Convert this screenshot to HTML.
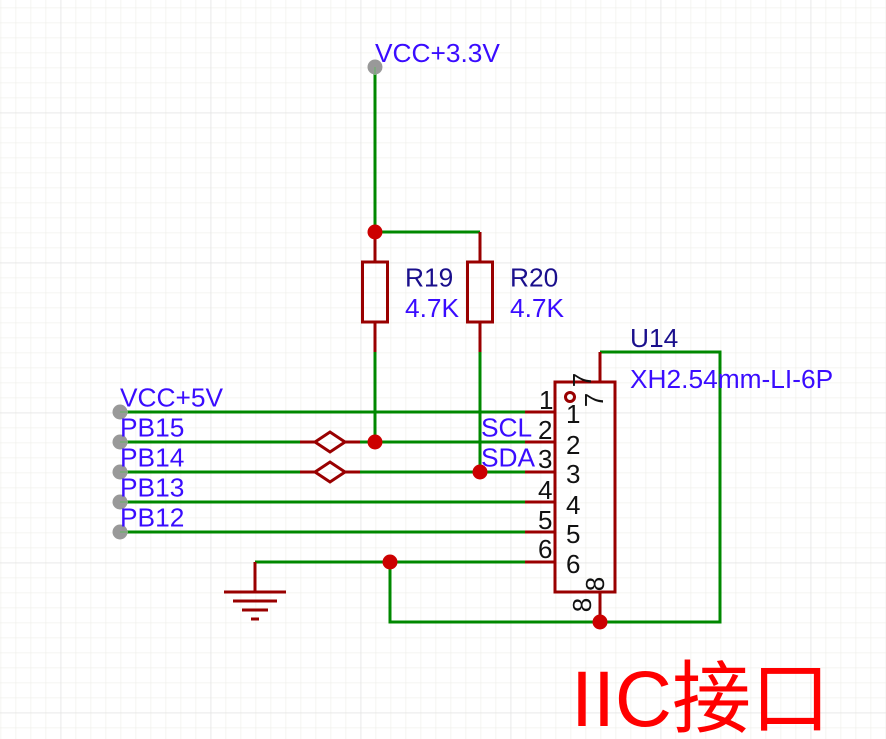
<!DOCTYPE html>
<html><head><meta charset="utf-8"><style>
html,body{margin:0;padding:0;background:#fff;width:886px;height:739px;overflow:hidden}
svg{display:block}
text{font-family:"Liberation Sans","Noto Sans CJK SC",sans-serif}
.b{fill:#3a0cff;font-size:26.3px}
.n{fill:#1a0f8c;font-size:26.3px}
.k{fill:#111;font-size:26px}
</style></head><body>
<svg width="886" height="739" viewBox="0 0 886 739" xmlns="http://www.w3.org/2000/svg">
<defs>
<pattern id="g" x="0.5" y="7.5" width="15" height="15" patternUnits="userSpaceOnUse">
<path d="M0 0V15M0 0H15" stroke="#f1f1ec" stroke-width="1.5" fill="none"/>
</pattern>
<pattern id="M" x="60.5" y="112.5" width="150" height="150" patternUnits="userSpaceOnUse">
<path d="M0 0V150M0 0H150" stroke="#e4e4e4" stroke-width="1.5" fill="none"/>
</pattern>
</defs>
<rect width="886" height="739" fill="#fff"/>
<rect width="886" height="739" fill="url(#g)"/>
<rect width="886" height="739" fill="url(#M)"/>

<g fill="none" stroke="#008800" stroke-width="3">
<path d="M375 67V232H480"/>
<path d="M375 352V442"/>
<path d="M480 352V472"/>
<path d="M120 412H525"/>
<path d="M120 442H300M345 442H525"/>
<path d="M120 472H300M345 472H525"/>
<path d="M120 502H525"/>
<path d="M120 532H525"/>
<path d="M255 562H525"/>
<path d="M390 562V622H720V352H600"/>
</g>

<g fill="none" stroke="#990000" stroke-width="3">
<path d="M375 232V262M375 322V352"/>
<path d="M480 232V262M480 322V352"/>
<rect x="362.500" y="262" width="25" height="60"/>
<rect x="467.500" y="262" width="25" height="60"/>
<path d="M300 442H315L330 432L345 442H360M315 442L330 452L345 442"/>
<path d="M300 472H315L330 462L345 472H360M315 472L330 482L345 472" />
<path d="M525 412H555M525 442H555M525 472H555M525 502H555M525 532H555M525 562H555"/>
<rect x="555" y="382" width="60" height="210"/>
<path d="M600 352V382M600 592V622"/>
<circle cx="570" cy="397" r="4.500"/>
<path d="M255 562V592M224 592H286M233 601H277M242 610H268M251 619H259"/>
</g>

<g fill="#cc0000">
<circle cx="375" cy="232" r="7.500"/>
<circle cx="375" cy="442" r="7.500"/>
<circle cx="480" cy="472" r="7.500"/>
<circle cx="390" cy="562" r="7.500"/>
<circle cx="600" cy="622" r="7.500"/>
</g>

<g fill="#999" stroke="none">
<circle cx="375" cy="67" r="7.500"/>
<circle cx="120" cy="412" r="7.500"/>
<circle cx="120" cy="442" r="7.500"/>
<circle cx="120" cy="472" r="7.500"/>
<circle cx="120" cy="502" r="7.500"/>
<circle cx="120" cy="532" r="7.500"/>
</g>
<g fill="none" stroke="#7da87d" stroke-width="2">
<path d="M375 67V75M120 412H128M120 442H128M120 472H128M120 502H128M120 532H128"/>
</g>

<text class="b" x="375" y="62">VCC+3.3V</text>
<text class="n" x="405" y="286.500">R19</text>
<text class="b" x="405" y="317">4.7K</text>
<text class="n" x="510" y="286.500">R20</text>
<text class="b" x="510" y="317">4.7K</text>
<text class="n" x="630" y="347">U14</text>
<text class="b" x="630" y="388">XH2.54mm-LI-6P</text>
<text class="b" x="120" y="406.500">VCC+5V</text>
<text class="b" x="120" y="436.500">PB15</text>
<text class="b" x="120" y="466.500">PB14</text>
<text class="b" x="120" y="496.500">PB13</text>
<text class="b" x="120" y="526.500">PB12</text>
<text class="b" x="481" y="436.500">SCL</text>
<text class="b" x="481" y="466.500">SDA</text>

<g>
<text x="539" y="409" class="k">1</text>
<text x="538" y="439" class="k">2</text>
<text x="538" y="468" class="k">3</text>
<text x="538" y="499" class="k">4</text>
<text x="538" y="529" class="k">5</text>
<text x="538" y="558" class="k">6</text>
<text x="566" y="423" class="k">1</text>
<text x="566" y="454" class="k">2</text>
<text x="566" y="483" class="k">3</text>
<text x="566" y="514" class="k">4</text>
<text x="566" y="543" class="k">5</text>
<text x="566" y="573" class="k">6</text>
<text class="k" text-anchor="middle" transform="translate(582 380) rotate(-90) translate(0 9)">7</text>
<text class="k" text-anchor="middle" transform="translate(594 400) rotate(-90) translate(0 9)">7</text>
<text class="k" text-anchor="middle" transform="translate(595 584) rotate(-90) translate(0 9)">8</text>
<text class="k" text-anchor="middle" transform="translate(582 605) rotate(-90) translate(0 9)">8</text>
</g>

<text x="571" y="726" font-size="79" fill="#ff0000">IIC接口</text>
</svg>
</body></html>
